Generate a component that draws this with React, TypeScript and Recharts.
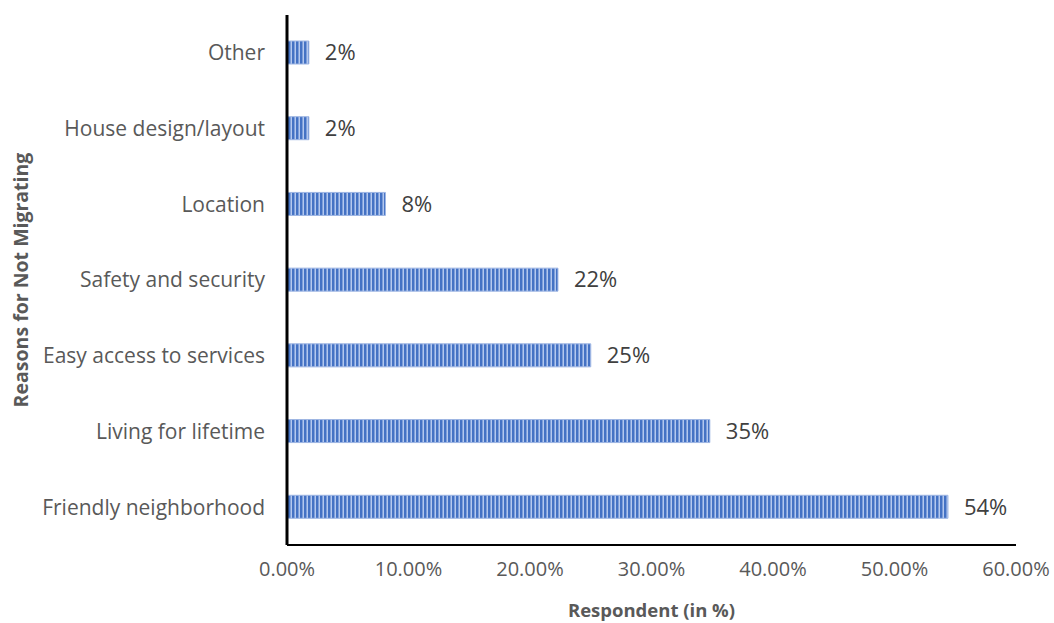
import { Bar, BarChart, LabelList, XAxis, YAxis } from "recharts";

const reasons = [
  "Other",
  "House design/layout",
  "Location",
  "Safety and security",
  "Easy access to services",
  "Living for lifetime",
  "Friendly neighborhood",
];
const shares = [0.018, 0.018, 0.081, 0.223, 0.25, 0.348, 0.544];
const xTicks = [0, 0.1, 0.2, 0.3, 0.4, 0.5, 0.6];

const data = reasons.map((reason, i) => ({ reason, share: shares[i] }));

const font = "'Open Sans', sans-serif";
const grey = "#595959";

export default function App() {
  return (
    <div style={{ position: "fixed", left: 0, top: 0, background: "#fff" }}>
      <BarChart
        width={1054}
        height={623}
        data={data}
        layout="vertical"
        margin={{ top: 15, right: 38, bottom: 3, left: 0 }}
        barCategoryGap={0}
      >
        <defs>
          <pattern id="stripes" width="4" height="4" patternUnits="userSpaceOnUse">
            <rect width="4" height="4" fill="#4472C4" />
            <rect x="2" width="1" height="4" fill="#7E9FDA" />
            <rect x="3" width="1" height="4" fill="#B4C8EE" />
          </pattern>
        </defs>
        <XAxis
          type="number"
          domain={[0, 0.6]}
          ticks={xTicks}
          height={75}
          tickLine={false}
          tickMargin={11}
          axisLine={{ stroke: "#000", strokeWidth: 2 }}
          tick={{ fill: grey, fontSize: 20, fontFamily: font }}
          tickFormatter={(v: number) => (v * 100).toFixed(2) + "%"}
          label={{
            content: ({ viewBox }: any) => (
              <text
                x={viewBox.x + viewBox.width / 2}
                y={609}
                textAnchor="middle"
                dominantBaseline="central"
                fill={grey}
                fontSize={18.5}
                fontWeight={700}
                fontFamily={font}
              >
                Respondent (in %)
              </text>
            ),
          }}
        />
        <YAxis
          type="category"
          dataKey="reason"
          width={287}
          tickLine={false}
          tickSize={6}
          tickMargin={16}
          axisLine={{ stroke: "#000", strokeWidth: 3 }}
          tick={{ fill: grey, fontSize: 21, fontFamily: font }}
          label={{
            content: ({ viewBox }: any) => {
              const x = viewBox.x + 20;
              const y = viewBox.y + viewBox.height / 2;
              return (
                <text
                  x={x}
                  y={y}
                  transform={`rotate(-90, ${x}, ${y})`}
                  textAnchor="middle"
                  dominantBaseline="central"
                  fill={grey}
                  fontSize={19.5}
                  fontWeight={700}
                  fontFamily={font}
                >
                  Reasons for Not Migrating
                </text>
              );
            },
          }}
        />
        <Bar
          dataKey="share"
          barSize={23}
          fill="url(#stripes)"
          stroke="#9DB5E3"
          strokeWidth={1}
          isAnimationActive={false}
        >
          <LabelList
            dataKey="share"
            position="right"
            offset={16}
            fill="#404040"
            fontSize={22}
            fontFamily={font}
            formatter={(v: any) => Math.round(Number(v) * 100) + "%"}
          />
        </Bar>
      </BarChart>
    </div>
  );
}
